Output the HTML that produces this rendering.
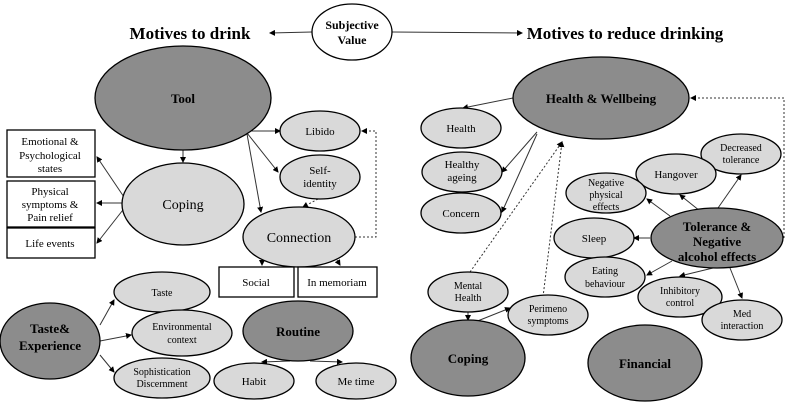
<!DOCTYPE html>
<html><head><style>body{margin:0;background:#fff}svg{display:block}text{font-family:"Liberation Serif",serif;text-anchor:middle;fill:#000}</style></head><body>
<svg width="788" height="403" viewBox="0 0 788 403" xmlns="http://www.w3.org/2000/svg">
<defs><marker id="a" markerWidth="6" markerHeight="6" refX="5" refY="3" orient="auto"><path d="M0,0L6,3L0,6z" fill="#000"/></marker></defs>
<g stroke="#333" stroke-width="1" fill="none" marker-end="url(#a)">
<line x1="312" y1="32" x2="270" y2="33"/><line x1="392" y1="32" x2="522" y2="33"/>
<line x1="183" y1="150" x2="183" y2="162"/>
<line x1="247" y1="131" x2="280" y2="131"/><line x1="247" y1="133" x2="278" y2="172"/><line x1="247" y1="134" x2="261" y2="212"/>
<line x1="126" y1="200" x2="97" y2="157"/><line x1="126" y1="203" x2="97" y2="203"/><line x1="126" y1="206" x2="97" y2="243"/>
<line x1="262" y1="260" x2="262" y2="265"/><line x1="337" y1="260" x2="340" y2="265"/>
<line x1="100" y1="325" x2="114" y2="300"/><line x1="100" y1="341" x2="131" y2="335"/><line x1="100" y1="355" x2="114" y2="372"/>
<line x1="290" y1="361" x2="262" y2="362"/><line x1="310" y1="361" x2="342" y2="362"/>
<line x1="513" y1="98" x2="463" y2="108"/><line x1="537" y1="132" x2="502" y2="172"/><line x1="537" y1="134" x2="502" y2="212"/>
<line x1="468" y1="312" x2="468" y2="320"/><line x1="470" y1="324" x2="510" y2="308"/>
<line x1="718" y1="208" x2="741" y2="175"/><line x1="700" y1="211" x2="680" y2="195"/><line x1="670" y1="216" x2="647" y2="199"/>
<line x1="650" y1="238" x2="634" y2="238"/><line x1="672" y1="261" x2="647" y2="275"/><line x1="713" y1="268" x2="680" y2="276"/><line x1="730" y1="268" x2="742" y2="298"/>
</g>
<g stroke="#333" stroke-width="1" fill="none" stroke-dasharray="2,2" marker-end="url(#a)">
<polyline points="355,237 376,237 376,131 362,131"/><line x1="318" y1="199" x2="303" y2="207"/>
<line x1="470" y1="272" x2="562" y2="142"/><line x1="543" y1="297" x2="562" y2="142"/>
<polyline points="784,238 784,98 691,98"/>
</g>
<g stroke="#000" stroke-width="1.3">
<ellipse cx="352" cy="32" rx="40" ry="28" fill="#fff"/>
<ellipse cx="183" cy="98" rx="88" ry="52" fill="#8c8c8c"/>
<ellipse cx="183" cy="204" rx="61" ry="41" fill="#d9d9d9"/>
<ellipse cx="320" cy="131" rx="40" ry="20" fill="#d9d9d9"/>
<ellipse cx="320" cy="177" rx="40" ry="22" fill="#d9d9d9"/>
<ellipse cx="299" cy="237" rx="56" ry="30" fill="#d9d9d9"/>
<ellipse cx="50" cy="341" rx="50" ry="38" fill="#8c8c8c"/>
<ellipse cx="162" cy="292" rx="48" ry="20" fill="#d9d9d9"/>
<ellipse cx="182" cy="333" rx="50" ry="23" fill="#d9d9d9"/>
<ellipse cx="162" cy="378" rx="48" ry="20" fill="#d9d9d9"/>
<ellipse cx="298" cy="331" rx="55" ry="30" fill="#8c8c8c"/>
<ellipse cx="254" cy="381" rx="40" ry="18" fill="#d9d9d9"/>
<ellipse cx="356" cy="381" rx="40" ry="18" fill="#d9d9d9"/>
<ellipse cx="601" cy="98" rx="88" ry="41" fill="#8c8c8c"/>
<ellipse cx="461" cy="128" rx="40" ry="20" fill="#d9d9d9"/>
<ellipse cx="462" cy="172" rx="40" ry="20" fill="#d9d9d9"/>
<ellipse cx="461" cy="213" rx="40" ry="20" fill="#d9d9d9"/>
<ellipse cx="741" cy="154" rx="40" ry="20" fill="#d9d9d9"/>
<ellipse cx="676" cy="174" rx="40" ry="20" fill="#d9d9d9"/>
<ellipse cx="606" cy="193" rx="40" ry="20" fill="#d9d9d9"/>
<ellipse cx="594" cy="238" rx="40" ry="20" fill="#d9d9d9"/>
<ellipse cx="717" cy="238" rx="66" ry="30" fill="#8c8c8c"/>
<ellipse cx="605" cy="277" rx="40" ry="20" fill="#d9d9d9"/>
<ellipse cx="680" cy="297" rx="42" ry="20" fill="#d9d9d9"/>
<ellipse cx="742" cy="320" rx="40" ry="20" fill="#d9d9d9"/>
<ellipse cx="468" cy="292" rx="40" ry="20" fill="#d9d9d9"/>
<ellipse cx="548" cy="315" rx="40" ry="20" fill="#d9d9d9"/>
<ellipse cx="468" cy="358" rx="57" ry="38" fill="#8c8c8c"/>
<ellipse cx="645" cy="363" rx="57" ry="38" fill="#8c8c8c"/>
<rect x="7" y="130" width="88" height="47" fill="#fff"/>
<rect x="7" y="181" width="88" height="46" fill="#fff"/>
<rect x="7" y="228" width="88" height="30" fill="#fff"/>
<rect x="219" y="267" width="75" height="30" fill="#fff"/>
<rect x="298" y="267" width="79" height="30" fill="#fff"/>
</g>
<g font-size="11">
<text x="352" y="29" font-weight="bold" font-size="12">Subjective</text><text x="352" y="44" font-weight="bold" font-size="12">Value</text>
<text x="190" y="39" font-weight="bold" font-size="17">Motives to drink</text>
<text x="625" y="39" font-weight="bold" font-size="17">Motives to reduce drinking</text>
<text x="183" y="103" font-weight="bold" font-size="13">Tool</text>
<text x="183" y="209" font-size="14">Coping</text>
<text x="320" y="135">Libido</text>
<text x="320" y="174">Self-</text><text x="320" y="187">identity</text>
<text x="299" y="242" font-size="14">Connection</text>
<text x="50" y="145">Emotional &amp;</text><text x="50" y="159">Psychological</text><text x="50" y="172">states</text>
<text x="50" y="195">Physical</text><text x="50" y="208">symptoms &amp;</text><text x="50" y="221">Pain relief</text>
<text x="50" y="247">Life events</text>
<text x="256" y="286">Social</text><text x="337" y="286">In memoriam</text>
<text x="50" y="333" font-weight="bold" font-size="13">Taste&amp;</text><text x="50" y="350" font-weight="bold" font-size="13">Experience</text>
<text x="162" y="296" font-size="10">Taste</text>
<text x="182" y="330" font-size="10">Environmental</text><text x="182" y="343" font-size="10">context</text>
<text x="162" y="375" font-size="10">Sophistication</text><text x="162" y="387" font-size="10">Discernment</text>
<text x="298" y="336" font-weight="bold" font-size="13">Routine</text>
<text x="254" y="385">Habit</text><text x="356" y="385">Me time</text>
<text x="601" y="103" font-weight="bold" font-size="13">Health &amp; Wellbeing</text>
<text x="461" y="132">Health</text>
<text x="462" y="168">Healthy</text><text x="462" y="181">ageing</text>
<text x="461" y="217">Concern</text>
<text x="741" y="151" font-size="10">Decreased</text><text x="741" y="163" font-size="10">tolerance</text>
<text x="676" y="178">Hangover</text>
<text x="606" y="186" font-size="10">Negative</text><text x="606" y="198" font-size="10">physical</text><text x="606" y="210" font-size="10">effects</text>
<text x="594" y="242">Sleep</text>
<text x="717" y="231" font-weight="bold" font-size="13">Tolerance &amp;</text><text x="717" y="246" font-weight="bold" font-size="13">Negative</text><text x="717" y="261" font-weight="bold" font-size="13">alcohol effects</text>
<text x="605" y="274" font-size="10">Eating</text><text x="605" y="287" font-size="10">behaviour</text>
<text x="680" y="294" font-size="10">Inhibitory</text><text x="680" y="306" font-size="10">control</text>
<text x="742" y="317" font-size="10">Med</text><text x="742" y="329" font-size="10">interaction</text>
<text x="468" y="289" font-size="10">Mental</text><text x="468" y="301" font-size="10">Health</text>
<text x="548" y="312" font-size="10">Perimeno</text><text x="548" y="324" font-size="10">symptoms</text>
<text x="468" y="363" font-weight="bold" font-size="13">Coping</text>
<text x="645" y="368" font-weight="bold" font-size="13">Financial</text>
</g>
</svg>
</body></html>
